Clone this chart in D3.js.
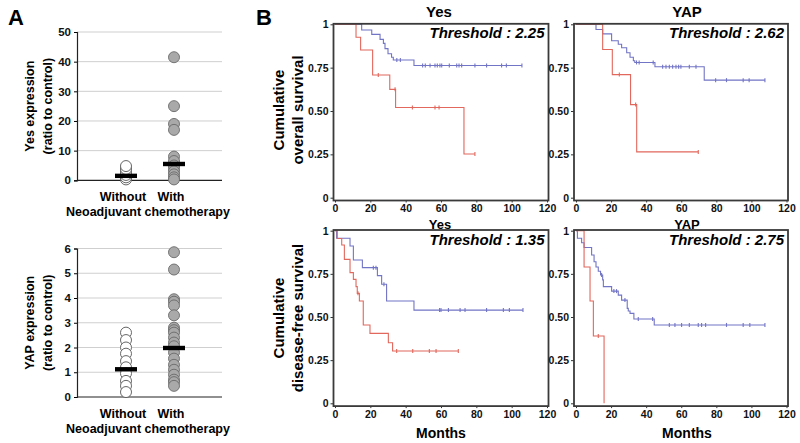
<!DOCTYPE html>
<html><head><meta charset="utf-8">
<script src="https://cdn.jsdelivr.net/npm/d3@7"></script>
<style>
body{margin:0;background:#fff;}
svg{display:block;font-family:"Liberation Sans",Arial,sans-serif;}
</style></head>
<body>
<script>
// ---------- Panel A data ----------
const groups = ["Without", "With"];
const yesWithout = [0.3, 1.0, 1.8, 2.8, 3.8, 4.8];
const yesWith = [41.5, 25, 19, 17, 8, 6.5, 5, 4, 3, 2, 1, 0.3];
const yesCenter = [1.5, 5.5];
const yesTicks = [0, 10, 20, 30, 40, 50];
const yapWithout = [2.6, 2.3, 2.0, 1.75, 1.45, 1.2, 0.95, 0.65, 0.45, 0.2];
const yapWith = [5.85, 5.15, 3.95, 3.85, 3.7, 3.3, 2.8, 2.7, 2.6, 2.4, 2.2, 2.05, 1.8, 1.55, 1.3, 1.1, 0.9, 0.7, 0.6, 0.45];
const yapCenter = [1.12, 1.98];
const yapTicks = [0, 1, 2, 3, 4, 5, 6];

// ---------- Panel B data (Kaplan-Meier steps: [month, survival]) ----------
const monthTicks = [0, 20, 40, 60, 80, 100, 120];
const survTicks = [0, 0.25, 0.5, 0.75, 1];
const survTickLabels = ["0", "0.25", "0.50", "0.75", "1"];

const yesOSRed = [[11.9,0.925],[14.5,0.852],[21.3,0.708],[31,0.625],[34.3,0.52],[73,0.252]];
const yesOSRedCens = [24.5, 34, 43.8, 56.6, 58.9, 79.2];
const yesOSBlue = [[15.1,0.967],[20.8,0.942],[25.5,0.913],[27.4,0.89],[28.3,0.86],[30,0.83],[32,0.81],[33,0.794],[44.7,0.762]];
const yesOSBlueCens = [35,37,49.6,51.1,53.8,56.6,57.9,59.4,60.4,64.7,68.9,70.2,71.7,79.2,85.8,94.3,97,105.8];

const yapOSRed = [[15.2,0.855],[20.7,0.71],[31.1,0.537],[34.6,0.264]];
const yapOSRedCens = [24.7, 34, 69.7];
const yapOSBlue = [[11.4,0.97],[15.2,0.945],[20.3,0.905],[24.1,0.885],[26,0.865],[28.9,0.836],[30.8,0.81],[32.7,0.79],[33.5,0.78],[45,0.755],[73.1,0.678]];
const yapOSBlueCens = [34.5,36,44,49.4,51.3,53.2,55.1,57,58.5,59.8,64.6,68.4,79.6,85.8,95.3,98.7,107.7];

const yesDFSRed = [[1.3,0.955],[3.8,0.917],[5.3,0.834],[8.5,0.757],[10.4,0.718],[11.9,0.676],[12.6,0.637],[13.8,0.593],[16,0.454],[19.8,0.405],[30.2,0.351],[32.6,0.303]];
const yesDFSRedCens = [13, 34.9, 44, 53.4, 57.2, 69.8];
const yesDFSBlue = [[0.9,0.956],[8.5,0.911],[10.4,0.83],[15.5,0.786],[24,0.74],[26.4,0.69],[29.2,0.593],[44.7,0.54]];
const yesDFSBlueCens = [21.7,23.2,27.7,59.2,60,64.2,70.8,73.6,85.8,95.3,98.7,106.4];

const yapDFSRed = [[4.6,0.79],[8,0.593],[9.9,0.39],[16,0]];
const yapDFSRedCens = [12.7];
const yapDFSBlue = [[0.8,0.956],[3.2,0.93],[4.6,0.903],[8.9,0.859],[10.3,0.82],[11.4,0.79],[12.7,0.765],[14,0.743],[15.2,0.715],[15.6,0.676],[20.3,0.65],[24.1,0.627],[26,0.598],[29.2,0.55],[29.8,0.535],[30.8,0.521],[33,0.488],[44.6,0.454]];
const yapDFSBlueCens = [14.6,21.6,23.1,27.9,35.5,43.7,53.2,56.4,60.2,64.6,69.7,71.6,73.9,85.8,95.3,99.1,107.7];

const thresholds = ["2.25", "2.62", "1.35", "2.75"];

// ---------- drawing ----------
const W = 800, H = 443;
const svg = d3.select("body").append("svg").attr("width", W).attr("height", H);
const BLUE = "#7274c6", RED = "#e2675c", FRAME = "#3a3a3a";

svg.append("text").attr("x", 8).attr("y", 25).attr("font-size", 22).attr("font-weight", "bold").text("A");
svg.append("text").attr("x", 256).attr("y", 25).attr("font-size", 22).attr("font-weight", "bold").text("B");

function dotPanel(yTop, yBot, domMax, ticks, without, withV, centers, t1, t2) {
  const y = d3.scaleLinear().domain([0, domMax]).range([yBot, yTop]);
  const x = d3.scalePoint().domain(groups).range([126, 174]);
  const g = svg.append("g");
  g.selectAll(".grid").data(ticks.filter(d => d > 0)).join("line")
    .attr("x1", 77).attr("x2", 222).attr("y1", d => y(d)).attr("y2", d => y(d))
    .attr("stroke", "#cfcfcf").attr("stroke-width", 1);
  const ax = g.append("g").attr("transform", "translate(77,0)")
    .call(d3.axisLeft(y).tickValues(ticks).tickFormat(d3.format("d")).tickSize(3).tickPadding(3));
  ax.select(".domain").attr("stroke", "#222").attr("stroke-width", 1.2);
  ax.selectAll("text").attr("font-size", 11.5).attr("font-weight", "bold").attr("fill", "#111")
    .attr("font-family", "Liberation Sans, Arial, sans-serif");
  g.append("line").attr("x1", 77).attr("x2", 222).attr("y1", yBot).attr("y2", yBot)
    .attr("stroke", "#222").attr("stroke-width", 1.2);
  g.selectAll(".w0").data(without).join("circle")
    .attr("cx", x("Without")).attr("cy", d => y(d)).attr("r", 5.5)
    .attr("fill", "#fff").attr("stroke", "#555").attr("stroke-width", 0.9);
  g.selectAll(".w1").data(withV).join("circle")
    .attr("cx", x("With")).attr("cy", d => y(d)).attr("r", 5.5)
    .attr("fill", "#a9a9a9").attr("stroke", "#6a6a6a").attr("stroke-width", 0.9);
  g.selectAll(".bar").data(centers).join("rect")
    .attr("x", (d, i) => x(groups[i]) - 11).attr("y", d => y(d) - 2.2)
    .attr("width", 22).attr("height", 4.4).attr("fill", "#000");
  g.selectAll(".cat").data(groups).join("text")
    .attr("x", d => x(d) - 3).attr("y", yBot + 21).attr("text-anchor", "middle")
    .attr("font-size", 12.5).attr("font-weight", "bold").text(d => d);
  g.append("text").attr("x", 148).attr("y", yBot + 36).attr("text-anchor", "middle")
    .attr("font-size", 12.5).attr("font-weight", "bold").text("Neoadjuvant chemotherapy");
  const cy = (yTop + yBot) / 2;
  g.append("text").attr("transform", `translate(34,${cy}) rotate(-90)`).attr("text-anchor", "middle")
    .attr("font-size", 12.5).attr("font-weight", "bold").text(t1);
  g.append("text").attr("transform", `translate(52,${cy}) rotate(-90)`).attr("text-anchor", "middle")
    .attr("font-size", 12.5).attr("font-weight", "bold").text(t2);
}
dotPanel(32, 180.3, 50, yesTicks, yesWithout, yesWith, yesCenter, "Yes expression", "(ratio to control)");
dotPanel(248.5, 397, 6, yapTicks, yapWithout, yapWith, yapCenter, "YAP expression", "(ratio to control)");

function kmPanel(left, top, x0, x1, y0, y1, curves, thr) {
  const x = d3.scaleLinear().domain([0, 120]).range([x0, x1]);
  const y = d3.scaleLinear().domain([0, 1]).range([y0, y1]);
  const g = svg.append("g");
  const right = x1 + 1.5, bottom = y0 + 2.8;
  const ax = g.append("g").attr("transform", `translate(0,${bottom})`)
    .call(d3.axisBottom(x).tickValues(monthTicks).tickSize(2).tickPadding(2));
  ax.select(".domain").remove();
  ax.selectAll("text").attr("font-size", 10.5).attr("font-weight", "bold").attr("fill", "#111")
    .attr("font-family", "Liberation Sans, Arial, sans-serif");
  ax.selectAll("line").attr("stroke", "#333");
  const ay = g.append("g").attr("transform", `translate(${left},0)`)
    .call(d3.axisLeft(y).tickValues(survTicks).tickFormat((d, i) => survTickLabels[i]).tickSize(3).tickPadding(2));
  ay.select(".domain").remove();
  ay.selectAll("text").attr("font-size", 10.5).attr("font-weight", "bold").attr("fill", "#111")
    .attr("font-family", "Liberation Sans, Arial, sans-serif");
  ay.selectAll("line").attr("stroke", "#333");
  const line = d3.line().x(d => x(d[0])).y(d => y(d[1])).curve(d3.curveStepAfter);
  curves.forEach(c => {
    const lastS = c.steps[c.steps.length - 1][1];
    const endT = Math.max(c.steps[c.steps.length - 1][0], d3.max(c.cens) || 0);
    const pts = [[0, 1], ...c.steps, [endT, lastS]];
    g.append("path").attr("d", line(pts)).attr("fill", "none")
      .attr("stroke", c.color).attr("stroke-width", 1.1);
    const survAt = t => { let s = 1; c.steps.forEach(p => { if (p[0] <= t) s = p[1]; }); return s; };
    g.selectAll(null).data(c.cens).join("line")
      .attr("x1", d => x(d)).attr("x2", d => x(d))
      .attr("y1", d => y(survAt(d)) - 2).attr("y2", d => y(survAt(d)) + 2)
      .attr("stroke", c.color).attr("stroke-width", 1.1);
  });
  g.append("rect").attr("x", left).attr("y", top).attr("width", right - left).attr("height", bottom - top)
    .attr("fill", "none").attr("stroke", FRAME).attr("stroke-width", 1.8);
  g.append("text").attr("x", right - 4).attr("y", top + 14.5).attr("text-anchor", "end")
    .attr("font-size", 15).attr("font-weight", "bold").attr("font-style", "italic")
    .text("Threshold : " + thr);
}

kmPanel(333.5, 23.8, 335, 547, 197.7, 24.3,
  [{steps: yesOSBlue, cens: yesOSBlueCens, color: BLUE}, {steps: yesOSRed, cens: yesOSRedCens, color: RED}], thresholds[0]);
kmPanel(574, 23.8, 576, 786.5, 197.7, 24.3,
  [{steps: yapOSBlue, cens: yapOSBlueCens, color: BLUE}, {steps: yapOSRed, cens: yapOSRedCens, color: RED}], thresholds[1]);
kmPanel(333.5, 230, 335, 547, 403.3, 230.7,
  [{steps: yesDFSBlue, cens: yesDFSBlueCens, color: BLUE}, {steps: yesDFSRed, cens: yesDFSRedCens, color: RED}], thresholds[2]);
kmPanel(574, 230, 576, 786.5, 403.3, 230.7,
  [{steps: yapDFSBlue, cens: yapDFSBlueCens, color: BLUE}, {steps: yapDFSRed, cens: yapDFSRedCens, color: RED}], thresholds[3]);

[["Yes", 439, 17, 15], ["YAP", 687, 17, 15], ["Yes", 440, 228.5, 13], ["YAP", 687, 228.5, 13]].forEach(t => {
  svg.append("text").attr("x", t[1]).attr("y", t[2]).attr("text-anchor", "middle")
    .attr("font-size", t[3]).attr("font-weight", "bold").text(t[0]);
});
[["Months", 441], ["Months", 687]].forEach(t => {
  svg.append("text").attr("x", t[1]).attr("y", 438).attr("text-anchor", "middle")
    .attr("font-size", 14).attr("font-weight", "bold").text(t[0]);
});
[[110, "overall survival"], [318, "disease-free survival"]].forEach(t => {
  svg.append("text").attr("transform", `translate(284,${t[0]}) rotate(-90)`).attr("text-anchor", "middle")
    .attr("font-size", 15).attr("font-weight", "bold").text("Cumulative");
  svg.append("text").attr("transform", `translate(303,${t[0]}) rotate(-90)`).attr("text-anchor", "middle")
    .attr("font-size", 15).attr("font-weight", "bold").text(t[1]);
});
</script>
</body></html>
